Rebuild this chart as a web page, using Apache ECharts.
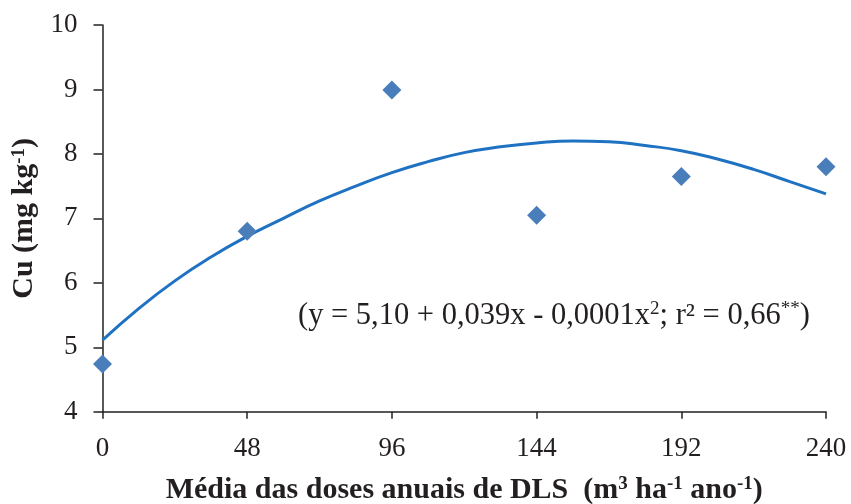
<!DOCTYPE html>
<html><head><meta charset="utf-8">
<script src="https://cdn.jsdelivr.net/npm/echarts@6/dist/echarts.min.js"></script>
<style>html,body{margin:0;padding:0;background:#fff}#c{width:851px;height:504px}</style>
</head><body><div id="c"></div>
<script>
// observed data points
const doses = [0, 48, 96, 144, 192, 240];
const cuValues = [4.74, 6.80, 8.99, 7.05, 7.65, 7.80];
// fitted trend curve
const curveX = [0, 12, 24, 36, 48, 60, 72, 84, 96, 108, 120, 132, 144, 156, 168, 180, 192, 204, 216, 228, 240];
const curveY = [5.11, 5.60, 6.03, 6.40, 6.72, 7.00, 7.27, 7.50, 7.71, 7.88, 8.02, 8.11, 8.17, 8.20, 8.19, 8.13, 8.05, 7.92, 7.76, 7.57, 7.38];
const xTicks = [0, 48, 96, 144, 192, 240];
const yTicks = [4, 5, 6, 7, 8, 9, 10];

const serif = '"Liberation Serif", "DejaVu Serif", serif';
const ink = '#231f20';
const chart = echarts.init(document.getElementById('c'), null, {renderer: 'canvas'});
chart.setOption({
  animation: false,
  backgroundColor: '#fff',
  grid: {left: 102.5, right: 25, top: 25, bottom: 92.3, containLabel: false, outerBoundsMode: 'none'},
  xAxis: {
    type: 'value', min: xTicks[0], max: xTicks[xTicks.length - 1], interval: 48,
    splitLine: {show: false},
    axisLine: {show: true, onZero: false, lineStyle: {color: '#222', width: 1.5}},
    axisTick: {show: true, length: 7, lineStyle: {color: '#222', width: 1.5}},
    axisLabel: {fontFamily: serif, fontSize: 27, color: ink, margin: 24},
    name: '{b|Média das doses anuais de DLS  (m}{s|3}{b| ha}{s|-1}{b| ano}{s|-1}{b|)}',
    nameLocation: 'middle', nameGap: 63,
    nameTextStyle: {
      rich: {
        b: {fontFamily: serif, fontWeight: 'bold', fontSize: 30, color: ink},
        s: {fontFamily: serif, fontWeight: 'bold', fontSize: 19, color: ink, verticalAlign: 'top', padding: [0, 0, 12, 0]}
      }
    }
  },
  yAxis: {
    type: 'value', min: yTicks[0], max: yTicks[yTicks.length - 1], interval: 1,
    splitLine: {show: false},
    axisLine: {show: true, onZero: false, lineStyle: {color: '#222', width: 1.5}},
    axisTick: {show: true, length: 9, lineStyle: {color: '#222', width: 1.5}},
    axisLabel: {fontFamily: serif, fontSize: 27, color: ink, margin: 25},
    name: '{b|Cu (mg kg}{s|-1}{b|)}',
    nameLocation: 'middle', nameGap: 60, nameRotate: 90,
    nameTextStyle: {
      rich: {
        b: {fontFamily: serif, fontWeight: 'bold', fontSize: 30, color: ink},
        s: {fontFamily: serif, fontWeight: 'bold', fontSize: 19, color: ink, verticalAlign: 'top', padding: [0, 0, 12, 0]}
      }
    }
  },
  series: [
    {
      type: 'line', smooth: true, showSymbol: false, silent: true,
      data: curveX.map((x, i) => [x, curveY[i]]),
      lineStyle: {color: '#1f72c2', width: 3},
      z: 2
    },
    {
      type: 'scatter', symbol: 'diamond', symbolSize: 19,
      data: doses.map((x, i) => [x, cuValues[i]]),
      itemStyle: {color: '#4a7ebb', opacity: 1},
      z: 3
    }
  ],
  graphic: [{
    type: 'text', x: 298, y: 316,
    style: {
      text: '{t|(y = 5,10 + 0,039x - 0,0001x}{s|2}{t|; r² = 0,66}{s|**}{t|)}',
      verticalAlign: 'middle',
      rich: {
        t: {fontFamily: serif, fontSize: 30.5, fill: ink},
        s: {fontFamily: serif, fontSize: 19, fill: ink, verticalAlign: 'top', padding: [0, 0, 13, 0]}
      }
    }
  }]
});
</script></body></html>
